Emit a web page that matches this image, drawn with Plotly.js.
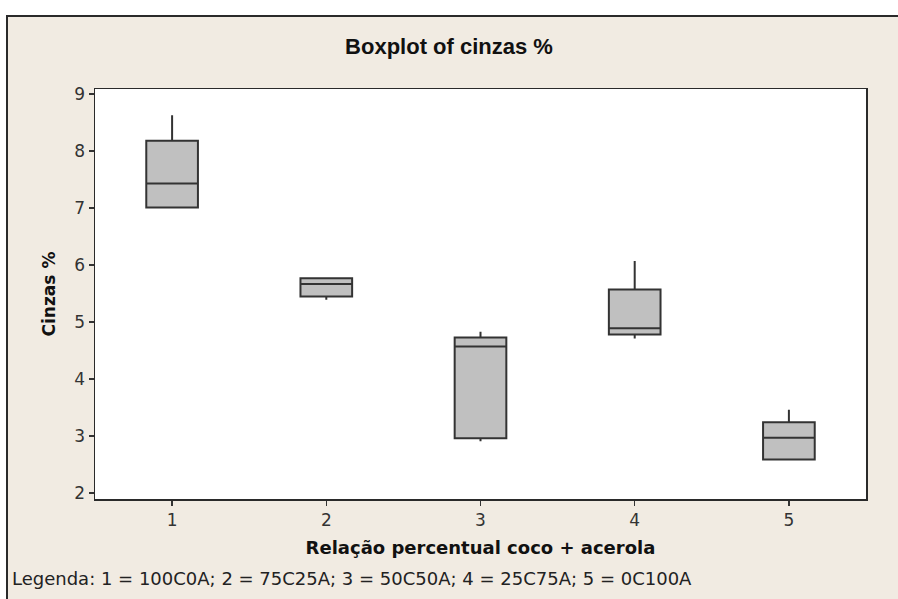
<!DOCTYPE html>
<html>
<head>
<meta charset="utf-8">
<script src="https://cdn.plot.ly/plotly-3.0.1.min.js"></script>
<style>
html,body{margin:0;padding:0;background:#ffffff;overflow:hidden;}
#wrap{position:absolute;left:6px;top:15px;width:892px;height:584px;border-left:2px solid #2a2a2a;border-top:2px solid #2a2a2a;background:#f1ebe2;}
#chart{width:890px;height:582px;}
</style>
</head>
<body>
<div id="wrap"><div id="chart"></div></div>
<script>
var groups = [1, 2, 3, 4, 5];
var q1Vals = [7.01, 5.45, 2.96, 4.78, 2.59];
var medianVals = [7.43, 5.67, 4.57, 4.89, 2.97];
var q3Vals = [8.18, 5.77, 4.73, 5.57, 3.24];
var lowerVals = [7.01, 5.39, 2.91, 4.71, 2.59];
var upperVals = [8.63, 5.77, 4.83, 6.07, 3.46];
var xTickLabels = ['1', '2', '3', '4', '5'];
var chartTitle = 'Boxplot of cinzas %';
var xTitle = 'Relação percentual coco + acerola';
var yTitle = 'Cinzas %';
var legendText = 'Legenda: 1 = 100C0A; 2 = 75C25A; 3 = 50C50A; 4 = 25C75A; 5 = 0C100A';

var mL = 87, mT = 72, mR = 32, mB = 100;
var W = 890, H = 582;
var pw = W - mL - mR, ph = H - mT - mB;

var trace = {
  type: 'box',
  x: groups,
  q1: q1Vals,
  median: medianVals,
  q3: q3Vals,
  lowerfence: lowerVals,
  upperfence: upperVals,
  width: 0.335,
  whiskerwidth: 0,
  fillcolor: '#c0c0c0',
  line: {color: '#333333', width: 2},
  boxpoints: false,
  hoverinfo: 'skip',
  showlegend: false
};

var fontMain = 'DejaVu Sans, Verdana, sans-serif';

var layout = {
  width: W, height: H,
  margin: {l: mL, r: mR, t: mT, b: mB, pad: 0},
  paper_bgcolor: '#f1ebe2',
  plot_bgcolor: '#ffffff',
  font: {family: fontMain, color: '#333333', size: 14},
  showlegend: false,
  title: {
    text: '<b>' + chartTitle + '</b>',
    font: {family: 'Liberation Sans, Arial, sans-serif', size: 22, color: '#111111'},
    x: (449 - 8) / W, xanchor: 'center',
    y: 1 - (46 - 17) / H, yanchor: 'middle'
  },
  xaxis: {
    type: 'linear',
    range: [0.5, 5.5],
    tickvals: groups,
    ticktext: xTickLabels,
    ticks: 'outside', ticklen: 5, tickwidth: 1.5, tickcolor: '#333333',
    showline: true, mirror: true, linecolor: '#2a2a2a', linewidth: 1.5,
    showgrid: false, zeroline: false,
    tickfont: {family: fontMain, size: 17, color: '#333333'},
    title: {text: '<b>' + xTitle + '</b>', font: {family: fontMain, size: 18, color: '#111111'}, standoff: 12}
  },
  yaxis: {
    range: [1.895, 9.09],
    dtick: 1, tick0: 0,
    ticks: 'outside', ticklen: 5, tickwidth: 1.5, tickcolor: '#333333',
    showline: true, mirror: true, linecolor: '#2a2a2a', linewidth: 1.5,
    showgrid: false, zeroline: false,
    tickfont: {family: fontMain, size: 17, color: '#333333'},
    title: {text: '<b>' + yTitle + '</b>', font: {family: fontMain, size: 17, color: '#111111'}, standoff: 14}
  },
  annotations: [{
    text: legendText,
    xref: 'paper', yref: 'paper',
    x: (10 - 8 - mL) / pw, xanchor: 'left',
    y: 1 - (578 - 17 - mT) / ph, yanchor: 'middle',
    showarrow: false,
    font: {family: fontMain, size: 18, color: '#222222'}
  }]
};

Plotly.newPlot('chart', [trace], layout, {displayModeBar: false, staticPlot: true});
</script>
</body>
</html>
